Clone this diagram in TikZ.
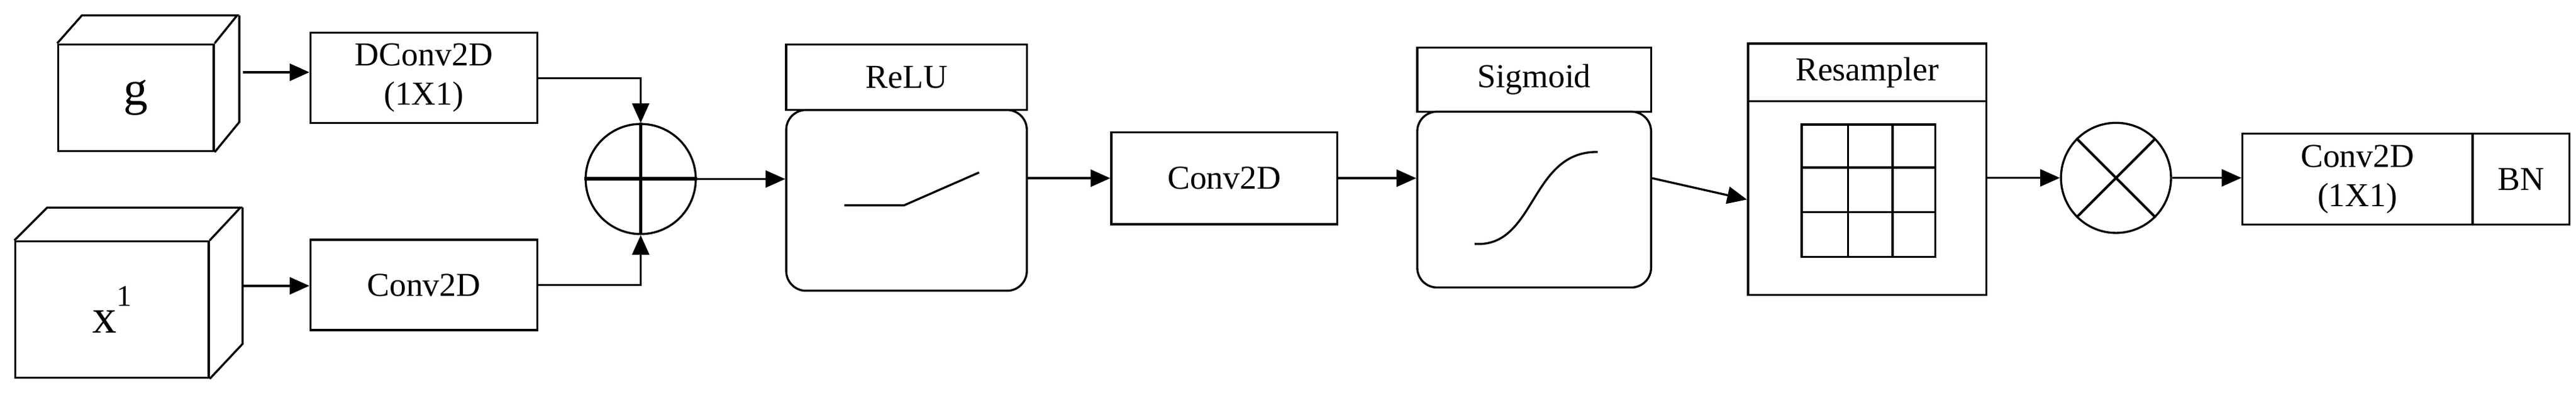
\documentclass[tikz,border=0pt]{standalone}
\usepackage{fontspec}
\setmainfont{Liberation Serif}
\usetikzlibrary{arrows.meta,calc}
\begin{document}
\begin{tikzpicture}[x=0.025cm,y=-0.025cm,
  line width=0.9pt,
  lbl/.style={font=\fontsize{14.5}{17}\selectfont},
  box/.style={draw,rectangle,inner sep=0pt,lbl,align=center},
  arr/.style={-{Triangle[length=3mm,width=2.6mm]}},
  op/.style={draw,circle,minimum size={67*0.25mm},inner sep=0pt}]
\useasboundingbox (0,0) rectangle (1568,242);
% input cubes
\node[box,minimum width={94.5*0.25mm},minimum height={65*0.25mm},font=\fontsize{21}{24}\selectfont] (gF) at (82.75,59.5) {g};
\draw (gF.north west) -- ++(15,-17) -- ++(94.5,0) -- (gF.north east) (gF.north east) ++(15,-17) -- ++(0,65) -- (gF.south east);
\node[box,minimum width={117.6*0.25mm},minimum height={83*0.25mm},font=\fontsize{21}{24}\selectfont] (xF) at (68.2,188.5) {x\raisebox{0.55em}{\fontsize{13}{15}\selectfont 1}};
\draw (xF.north west) -- ++(20,-20) -- ++(117.6,0) -- (xF.north east) (xF.north east) ++(20,-20) -- ++(0,83) -- (xF.south east);
% first convs
\node[box,minimum width={138*0.25mm},minimum height={55*0.25mm}] (dconv) at (258,47.5) {DConv2D\\(1X1)};
\node[box,minimum width={138*0.25mm},minimum height={55*0.25mm}] (conv1) at (258,173.5) {Conv2D};
\coordinate (gs) at (148,44);
\coordinate (xs) at (148,174);
\draw[arr] (gs) -- (gs -| dconv.west);
\draw[arr] (xs) -- (xs -| conv1.west);
% plus
\node[op] (plus) at (390,109) {};
\draw[line width=1.6pt] (plus.west) -- (plus.east);
\draw[line width=1.3pt] (plus.north) -- (plus.south);
\draw[arr] (dconv.east) -| (plus.north);
\draw[arr] (conv1.east) -| (plus.south);
% ReLU
\node[box,minimum width={146.4*0.25mm},minimum height={40*0.25mm}] (relul) at (551.8,47) {ReLU};
\node[draw,rectangle,rounded corners=3mm,minimum width={146.4*0.25mm},minimum height={110*0.25mm}] (relub) at (551.8,122) {};
\draw (514,125) -- (550.3,125) -- (596,105);
\draw[arr] (plus.east) -- (plus.east -| relub.west);
% Conv2D
\node[box,minimum width={137.5*0.25mm},minimum height={56*0.25mm}] (conv2) at (745.25,108.5) {Conv2D};
\draw[arr] (relub.east |- conv2.west) -- (conv2.west);
% Sigmoid
\node[box,minimum width={142.3*0.25mm},minimum height={39*0.25mm}] (sigl) at (933.85,48.5) {Sigmoid};
\node[draw,rectangle,rounded corners=3mm,minimum width={142.3*0.25mm},minimum height={107*0.25mm}] (sigb) at (933.85,121.5) {};
\draw (897.6,148.5) .. controls (935,151) and (931,92) .. (972.5,92.5);
\draw[arr] (conv2.east) -- (conv2.east -| sigb.west);
% Resampler
\node[box,minimum width={145*0.25mm},minimum height={35.1*0.25mm}] (resl) at (1136.5,44.05) {Resampler};
\node[draw,rectangle,minimum width={145*0.25mm},minimum height={117.9*0.25mm}] (resb) at (1136.5,120.55) {};
\draw (1096.7,75.8) rectangle (1178,156.4);
\draw (1124.8,75.8) -- (1124.8,156.4) (1152,75.8) -- (1152,156.4)
      (1096.7,102) -- (1178,102) (1096.7,129) -- (1178,129);
\draw[arr] (sigb.east |- conv2.east) -- (sigb.east -| resb.west) coordinate (dummy);
% times
\node[op] (times) at (1288,108.3) {};
\draw[line width=1.1pt] (times.north west) -- (times.south east) (times.north east) -- (times.south west);
\draw[arr] (resb.east |- times.west) -- (times.west);
% final
\node[box,minimum width={140*0.25mm},minimum height={55.4*0.25mm}] (conv3) at (1435,109.1) {Conv2D\\(1X1)};
\node[box,minimum width={59*0.25mm},minimum height={55.4*0.25mm}] (bn) at (1534.5,109.1) {BN};
\draw[arr] (times.east) -- (times.east -| conv3.west);
\end{tikzpicture}
\end{document}
